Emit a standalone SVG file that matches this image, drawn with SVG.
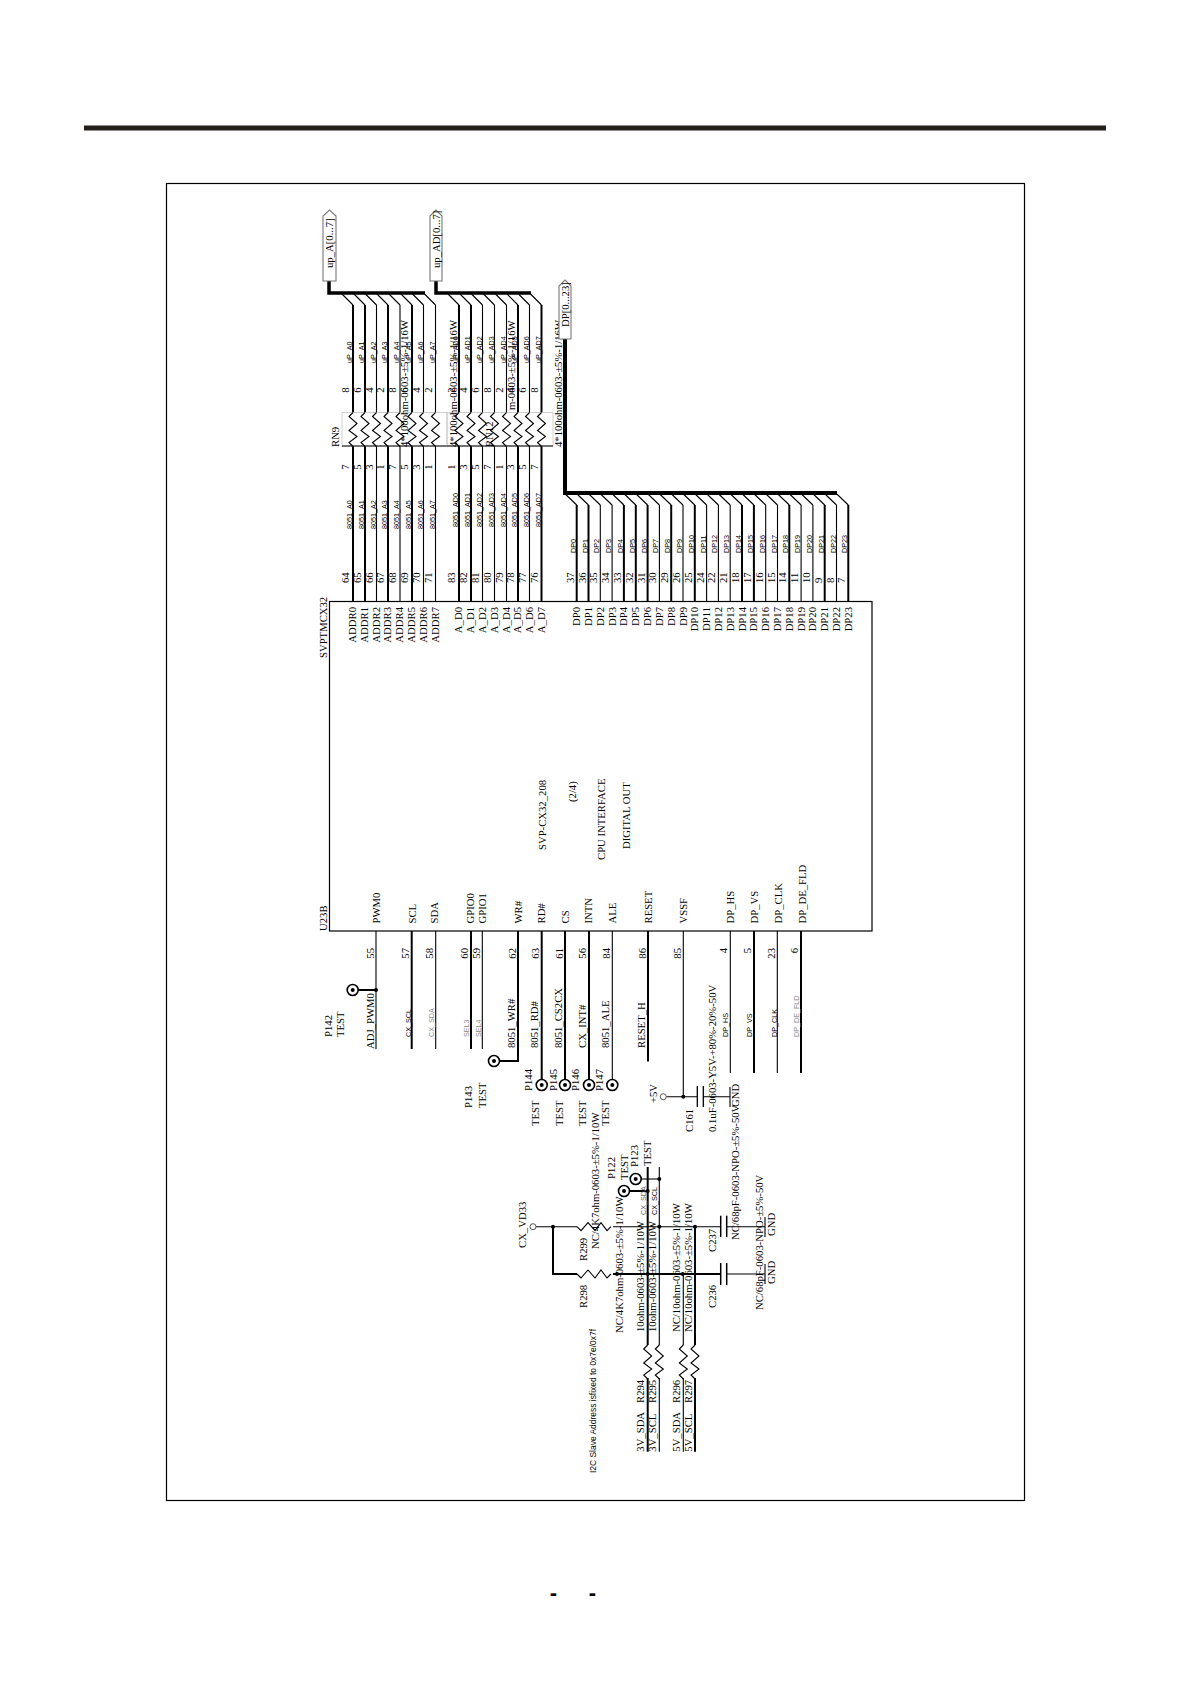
<svg xmlns="http://www.w3.org/2000/svg" width="1192" height="1685" viewBox="0 0 1192 1685">
<style>
text{font-family:"Liberation Serif","Times New Roman",serif;font-size:10.7px;fill:#000}
.a{font-family:"Liberation Sans",Arial,sans-serif;font-size:7.2px}
.g{fill:#888}
.e{text-anchor:end}
.c{text-anchor:middle}
path,line,rect,circle,polyline{fill:none;stroke:#000;stroke-width:1.1}
.t{stroke-width:2}
.b{stroke-width:3.5}
.d{fill:#000;stroke:none}
.tp{fill:#fff;stroke-width:1.6}
.o{fill:#fff;stroke:#555;stroke-width:1}
.rn{stroke:#c4c4c4;stroke-width:.8}
.port{fill:#fff;stroke:#777}
</style>
<defs>
<path id="zz" d="M0,0L-4,4L4,11L-4,18L4,24L-4,30L0,34"/>
</defs>
<rect id="header-rule" x="84" y="125.5" width="1022" height="5" style="fill:#231f1a;stroke:none"/>
<rect id="frame" x="166.5" y="183.5" width="858" height="1317" style="stroke-width:1.2"/>
<text id="footer-1" class="e" style="font-family:'Liberation Sans',sans-serif;font-size:22px;font-weight:bold" x="557" y="1600">-</text>
<text id="footer-2" class="e" style="font-family:'Liberation Sans',sans-serif;font-size:22px;font-weight:bold" x="596" y="1600">-</text>

<g id="connectors">
<path class="b" d="M329,281V293H425"/>
<path class="b" d="M436,281V293H531"/>
<path class="b" style="stroke-width:4" d="M565,339V493H837"/>
<path d="M342,294l11,11M354,294l11,11M365.500,294l11,11M377,294l11,11M389,294l11,11M401,294l11,11M412.500,294l11,11M424.500,294l11,11"/>
<path d="M448,294l11,11M460,294l11,11M471.500,294l11,11M483.500,294l11,11M495.500,294l11,11M507,294l11,11M518.500,294l11,11M530.500,294l11,11"/>
<path class="t" d="M353,305V412.500M353,446V601"/>
<path class="t" d="M365,305V412.500M365,446V601"/>
<path d="M376.500,305V412.500M376.500,446V601"/>
<path class="t" d="M388,305V412.500M388,446V601"/>
<path d="M400,305V412.500M400,446V601"/>
<path class="t" d="M412,305V412.500M412,446V601"/>
<path d="M423.500,305V412.500M423.500,446V601"/>
<path d="M435.500,305V412.500M435.500,446V601"/>
<path class="t" d="M459,305V412.500M459,446V601"/>
<path class="t" d="M471,305V412.500M471,446V601"/>
<path d="M482.500,305V412.500M482.500,446V601"/>
<path d="M494.500,305V412.500M494.500,446V601"/>
<path d="M506.500,305V412.500M506.500,446V601"/>
<path class="t" d="M518,305V412.500M518,446V601"/>
<path d="M529.500,305V412.500M529.500,446V601"/>
<path class="t" d="M541.500,305V412.500M541.500,446V601"/>
<path d="M565.200,494l11.500,11M577,494l11.500,11M588.800,494l11.500,11M600.600,494l11.500,11M612.400,494l11.500,11M624.300,494l11.500,11M636.100,494l11.500,11M647.900,494l11.500,11M659.700,494l11.500,11M671.500,494l11.500,11M683.300,494l11.500,11M695.100,494l11.500,11M706.900,494l11.500,11M718.700,494l11.500,11M730.500,494l11.500,11M742.400,494l11.500,11M754.200,494l11.500,11M766,494l11.500,11M777.800,494l11.500,11M789.600,494l11.500,11M801.400,494l11.500,11M813.200,494l11.500,11M825,494l11.500,11M836.800,494l11.500,11"/>
<path class="t" d="M576.700,505V601"/>
<path class="t" d="M588.500,505V601"/>
<path d="M600.300,505V601"/>
<path d="M612.100,505V601"/>
<path class="t" d="M623.900,505V601"/>
<path class="t" d="M635.800,505V601"/>
<path class="t" d="M647.600,505V601"/>
<path d="M659.400,505V601"/>
<path class="t" d="M671.200,505V601"/>
<path d="M683,505V601"/>
<path class="t" d="M694.800,505V601"/>
<path d="M706.600,505V601"/>
<path d="M718.400,505V601"/>
<path d="M730.200,505V601"/>
<path class="t" d="M742,505V601"/>
<path class="t" d="M753.900,505V601"/>
<path d="M765.700,505V601"/>
<path d="M777.500,505V601"/>
<path class="t" d="M789.300,505V601"/>
<path d="M801.100,505V601"/>
<path d="M812.900,505V601"/>
<path class="t" d="M824.700,505V601"/>
<path d="M836.500,505V601"/>
<path class="t" d="M848.300,505V601"/>
<path d="M376,931V1049"/>
<path class="t" d="M347,990H376"/>
<path class="t" d="M411.700,931V1049"/>
<path d="M435.700,931V1049"/>
<path class="t" d="M471,931V1049"/>
<path d="M482.300,931V1049"/>
<path class="t" d="M518,931V1061H500"/>
<path class="t" d="M541.700,931V1080"/>
<path class="t" d="M565,931V1080"/>
<path class="t" d="M589,931V1080"/>
<path d="M612.300,931V1080"/>
<path class="t" d="M648,931V1061.500"/>
<path d="M683.300,931V1096.700"/>
<path d="M730.300,931V1073"/>
<path class="t" d="M754,931V1073"/>
<path d="M777.300,931V1073"/>
<path class="t" d="M801,931V1073"/>
<path d="M666.300,1096.700H697.300M703.300,1096.700H730"/>
<path d="M536,1226.700H577M613,1226.700H720.700M726.700,1226.700H765"/>
<path class="t" d="M553,1226.700V1274H577M613,1274H720.700"/>
<path d="M726.700,1274H765"/>
<path class="t" d="M647.700,1167V1345M647.700,1378V1451.700"/>
<path d="M659.300,1167V1345M659.300,1378V1451.700"/>
<path d="M683.300,1274V1345M683.300,1378V1451.700"/>
<path class="t" d="M695,1226.700V1345M695,1378V1451.700"/>
<path d="M641,1179H659.300"/>
<path class="t" d="M629.500,1191H647.700"/>
<circle class="d" cx="376" cy="990" r="2"/>
<circle class="d" cx="683.300" cy="1096.700" r="2"/>
<circle class="d" cx="553" cy="1226.700" r="2"/>
<circle class="d" cx="659.300" cy="1226.700" r="2"/>
<circle class="d" cx="695" cy="1226.700" r="2"/>
<circle class="d" cx="617" cy="1274" r="2"/>
<circle class="d" cx="647.700" cy="1274" r="2"/>
<circle class="d" cx="682.700" cy="1274" r="2"/>
<circle class="d" cx="659.300" cy="1179" r="2"/>
<circle class="d" cx="647.700" cy="1191" r="2"/>
</g>

<g id="U23B">
<rect x="329.500" y="601.500" width="542.500" height="329.500" style="stroke-width:1.2"/>
<text transform="translate(327 931)rotate(-90)">U23B</text>
<text transform="translate(327 658)rotate(-90)">SVPTMCX32</text>
<text transform="translate(546 850)rotate(-90)">SVP-CX32_208</text>
<text transform="translate(576 802)rotate(-90)">(2/4)</text>
<text transform="translate(605 860)rotate(-90)">CPU INTERFACE</text>
<text transform="translate(630 849)rotate(-90)">DIGITAL OUT</text>
<g class="names">
<text class="e" transform="translate(356 607)rotate(-90)">ADDR0</text>
<text class="e" transform="translate(368 607)rotate(-90)">ADDR1</text>
<text class="e" transform="translate(379.500 607)rotate(-90)">ADDR2</text>
<text class="e" transform="translate(391 607)rotate(-90)">ADDR3</text>
<text class="e" transform="translate(403 607)rotate(-90)">ADDR4</text>
<text class="e" transform="translate(415 607)rotate(-90)">ADDR5</text>
<text class="e" transform="translate(426.500 607)rotate(-90)">ADDR6</text>
<text class="e" transform="translate(438.500 607)rotate(-90)">ADDR7</text>
<text class="e" transform="translate(462 607)rotate(-90)">A_D0</text>
<text class="e" transform="translate(474 607)rotate(-90)">A_D1</text>
<text class="e" transform="translate(485.500 607)rotate(-90)">A_D2</text>
<text class="e" transform="translate(497.500 607)rotate(-90)">A_D3</text>
<text class="e" transform="translate(509.500 607)rotate(-90)">A_D4</text>
<text class="e" transform="translate(521 607)rotate(-90)">A_D5</text>
<text class="e" transform="translate(532.500 607)rotate(-90)">A_D6</text>
<text class="e" transform="translate(544.500 607)rotate(-90)">A_D7</text>
<text class="e" transform="translate(580.200 607)rotate(-90)">DP0</text>
<text class="e" transform="translate(592 607)rotate(-90)">DP1</text>
<text class="e" transform="translate(603.800 607)rotate(-90)">DP2</text>
<text class="e" transform="translate(615.600 607)rotate(-90)">DP3</text>
<text class="e" transform="translate(627.400 607)rotate(-90)">DP4</text>
<text class="e" transform="translate(639.300 607)rotate(-90)">DP5</text>
<text class="e" transform="translate(651.100 607)rotate(-90)">DP6</text>
<text class="e" transform="translate(662.900 607)rotate(-90)">DP7</text>
<text class="e" transform="translate(674.700 607)rotate(-90)">DP8</text>
<text class="e" transform="translate(686.500 607)rotate(-90)">DP9</text>
<text class="e" transform="translate(698.300 607)rotate(-90)">DP10</text>
<text class="e" transform="translate(710.100 607)rotate(-90)">DP11</text>
<text class="e" transform="translate(721.900 607)rotate(-90)">DP12</text>
<text class="e" transform="translate(733.700 607)rotate(-90)">DP13</text>
<text class="e" transform="translate(745.500 607)rotate(-90)">DP14</text>
<text class="e" transform="translate(757.400 607)rotate(-90)">DP15</text>
<text class="e" transform="translate(769.200 607)rotate(-90)">DP16</text>
<text class="e" transform="translate(781 607)rotate(-90)">DP17</text>
<text class="e" transform="translate(792.800 607)rotate(-90)">DP18</text>
<text class="e" transform="translate(804.600 607)rotate(-90)">DP19</text>
<text class="e" transform="translate(816.400 607)rotate(-90)">DP20</text>
<text class="e" transform="translate(828.200 607)rotate(-90)">DP21</text>
<text class="e" transform="translate(840 607)rotate(-90)">DP22</text>
<text class="e" transform="translate(851.800 607)rotate(-90)">DP23</text>
<text transform="translate(380 923.500)rotate(-90)">PWM0</text>
<text transform="translate(415.700 923.500)rotate(-90)">SCL</text>
<text transform="translate(438 923.500)rotate(-90)">SDA</text>
<text transform="translate(474 923.500)rotate(-90)">GPIO0</text>
<text transform="translate(485.700 923.500)rotate(-90)">GPIO1</text>
<text transform="translate(521.700 923.500)rotate(-90)">WR#</text>
<text transform="translate(545 923.500)rotate(-90)">RD#</text>
<text transform="translate(569 923.500)rotate(-90)">CS</text>
<text transform="translate(591.700 923.500)rotate(-90)">INTN</text>
<text transform="translate(616 923.500)rotate(-90)">ALE</text>
<text transform="translate(651.700 923.500)rotate(-90)">RESET</text>
<text transform="translate(686.700 923.500)rotate(-90)">VSSF</text>
<text transform="translate(734 923.500)rotate(-90)">DP_HS</text>
<text transform="translate(757.700 923.500)rotate(-90)">DP_VS</text>
<text transform="translate(781.700 923.500)rotate(-90)">DP_CLK</text>
<text transform="translate(806 923.500)rotate(-90)">DP_DE_FLD</text>
</g>
<g class="pin-numbers">
<text transform="translate(349 583)rotate(-90)">64</text>
<text transform="translate(361 583)rotate(-90)">65</text>
<text transform="translate(372.500 583)rotate(-90)">66</text>
<text transform="translate(384 583)rotate(-90)">67</text>
<text transform="translate(396 583)rotate(-90)">68</text>
<text transform="translate(408 583)rotate(-90)">69</text>
<text transform="translate(419.500 583)rotate(-90)">70</text>
<text transform="translate(431.500 583)rotate(-90)">71</text>
<text transform="translate(455 583)rotate(-90)">83</text>
<text transform="translate(467 583)rotate(-90)">82</text>
<text transform="translate(478.500 583)rotate(-90)">81</text>
<text transform="translate(490.500 583)rotate(-90)">80</text>
<text transform="translate(502.500 583)rotate(-90)">79</text>
<text transform="translate(514 583)rotate(-90)">78</text>
<text transform="translate(525.500 583)rotate(-90)">77</text>
<text transform="translate(537.500 583)rotate(-90)">76</text>
<text transform="translate(573.700 583)rotate(-90)">37</text>
<text transform="translate(585.500 583)rotate(-90)">36</text>
<text transform="translate(597.300 583)rotate(-90)">35</text>
<text transform="translate(609.100 583)rotate(-90)">34</text>
<text transform="translate(620.900 583)rotate(-90)">33</text>
<text transform="translate(632.800 583)rotate(-90)">32</text>
<text transform="translate(644.600 583)rotate(-90)">31</text>
<text transform="translate(656.400 583)rotate(-90)">30</text>
<text transform="translate(668.200 583)rotate(-90)">29</text>
<text transform="translate(680 583)rotate(-90)">26</text>
<text transform="translate(691.800 583)rotate(-90)">25</text>
<text transform="translate(703.600 583)rotate(-90)">24</text>
<text transform="translate(715.400 583)rotate(-90)">22</text>
<text transform="translate(727.200 583)rotate(-90)">21</text>
<text transform="translate(739 583)rotate(-90)">18</text>
<text transform="translate(750.900 583)rotate(-90)">17</text>
<text transform="translate(762.700 583)rotate(-90)">16</text>
<text transform="translate(774.500 583)rotate(-90)">15</text>
<text transform="translate(786.300 583)rotate(-90)">14</text>
<text transform="translate(798.100 583)rotate(-90)">11</text>
<text transform="translate(809.900 583)rotate(-90)">10</text>
<text transform="translate(821.700 583)rotate(-90)">9</text>
<text transform="translate(833.500 583)rotate(-90)">8</text>
<text transform="translate(845.300 583)rotate(-90)">7</text>
<text class="e" transform="translate(374 948)rotate(-90)">55</text>
<text class="e" transform="translate(409 948)rotate(-90)">57</text>
<text class="e" transform="translate(433 948)rotate(-90)">58</text>
<text class="e" transform="translate(468 948)rotate(-90)">60</text>
<text class="e" transform="translate(480 948)rotate(-90)">59</text>
<text class="e" transform="translate(516 948)rotate(-90)">62</text>
<text class="e" transform="translate(539 948)rotate(-90)">63</text>
<text class="e" transform="translate(562.700 948)rotate(-90)">61</text>
<text class="e" transform="translate(586 948)rotate(-90)">56</text>
<text class="e" transform="translate(610 948)rotate(-90)">84</text>
<text class="e" transform="translate(645.700 948)rotate(-90)">86</text>
<text class="e" transform="translate(680.700 948)rotate(-90)">85</text>
<text class="e" transform="translate(727.300 948)rotate(-90)">4</text>
<text class="e" transform="translate(751 948)rotate(-90)">5</text>
<text class="e" transform="translate(775 948)rotate(-90)">23</text>
<text class="e" transform="translate(798 948)rotate(-90)">6</text>
</g>
</g>

<g id="net-labels">
<text class="a" transform="translate(352 529)rotate(-90)">8051_A0</text>
<text class="a" transform="translate(364 529)rotate(-90)">8051_A1</text>
<text class="a" transform="translate(375.500 529)rotate(-90)">8051_A2</text>
<text class="a" transform="translate(387 529)rotate(-90)">8051_A3</text>
<text class="a" transform="translate(399 529)rotate(-90)">8051_A4</text>
<text class="a" transform="translate(411 529)rotate(-90)">8051_A5</text>
<text class="a" transform="translate(422.500 529)rotate(-90)">8051_A6</text>
<text class="a" transform="translate(434.500 529)rotate(-90)">8051_A7</text>
<text class="a" transform="translate(458 527)rotate(-90)">8051_AD0</text>
<text class="a" transform="translate(470 527)rotate(-90)">8051_AD1</text>
<text class="a" transform="translate(481.500 527)rotate(-90)">8051_AD2</text>
<text class="a" transform="translate(493.500 527)rotate(-90)">8051_AD3</text>
<text class="a" transform="translate(505.500 527)rotate(-90)">8051_AD4</text>
<text class="a" transform="translate(517 527)rotate(-90)">8051_AD5</text>
<text class="a" transform="translate(528.500 527)rotate(-90)">8051_AD6</text>
<text class="a" transform="translate(540.500 527)rotate(-90)">8051_AD7</text>
<text class="a" transform="translate(352 363)rotate(-90)">uP_A0</text>
<text class="a" transform="translate(364 363)rotate(-90)">uP_A1</text>
<text class="a" transform="translate(375.500 363)rotate(-90)">uP_A2</text>
<text class="a" transform="translate(387 363)rotate(-90)">uP_A3</text>
<text class="a" transform="translate(399 363)rotate(-90)">uP_A4</text>
<text class="a" transform="translate(411 363)rotate(-90)">uP_A5</text>
<text class="a" transform="translate(422.500 363)rotate(-90)">uP_A6</text>
<text class="a" transform="translate(434.500 363)rotate(-90)">uP_A7</text>
<text class="a" transform="translate(458 363)rotate(-90)">uP_AD0</text>
<text class="a" transform="translate(470 363)rotate(-90)">uP_AD1</text>
<text class="a" transform="translate(481.500 363)rotate(-90)">uP_AD2</text>
<text class="a" transform="translate(493.500 363)rotate(-90)">uP_AD3</text>
<text class="a" transform="translate(505.500 363)rotate(-90)">uP_AD4</text>
<text class="a" transform="translate(517 363)rotate(-90)">uP_AD5</text>
<text class="a" transform="translate(528.500 363)rotate(-90)">uP_AD6</text>
<text class="a" transform="translate(540.500 363)rotate(-90)">uP_AD7</text>
<text class="a" transform="translate(575.700 553)rotate(-90)">DP0</text>
<text class="a" transform="translate(587.500 553)rotate(-90)">DP1</text>
<text class="a" transform="translate(599.300 553)rotate(-90)">DP2</text>
<text class="a" transform="translate(611.100 553)rotate(-90)">DP3</text>
<text class="a" transform="translate(622.900 553)rotate(-90)">DP4</text>
<text class="a" transform="translate(634.800 553)rotate(-90)">DP5</text>
<text class="a" transform="translate(646.600 553)rotate(-90)">DP6</text>
<text class="a" transform="translate(658.400 553)rotate(-90)">DP7</text>
<text class="a" transform="translate(670.200 553)rotate(-90)">DP8</text>
<text class="a" transform="translate(682 553)rotate(-90)">DP9</text>
<text class="a" transform="translate(693.800 553)rotate(-90)">DP10</text>
<text class="a" transform="translate(705.600 553)rotate(-90)">DP11</text>
<text class="a" transform="translate(717.400 553)rotate(-90)">DP12</text>
<text class="a" transform="translate(729.200 553)rotate(-90)">DP13</text>
<text class="a" transform="translate(741 553)rotate(-90)">DP14</text>
<text class="a" transform="translate(752.900 553)rotate(-90)">DP15</text>
<text class="a" transform="translate(764.700 553)rotate(-90)">DP16</text>
<text class="a" transform="translate(776.500 553)rotate(-90)">DP17</text>
<text class="a" transform="translate(788.300 553)rotate(-90)">DP18</text>
<text class="a" transform="translate(800.100 553)rotate(-90)">DP19</text>
<text class="a" transform="translate(811.900 553)rotate(-90)">DP20</text>
<text class="a" transform="translate(823.700 553)rotate(-90)">DP21</text>
<text class="a" transform="translate(835.500 553)rotate(-90)">DP22</text>
<text class="a" transform="translate(847.300 553)rotate(-90)">DP23</text>
<text transform="translate(374 1049)rotate(-90)">ADJ_PWM0</text>
<text class="a" transform="translate(410.700 1037)rotate(-90)">CX_SCL</text>
<text class="a g" transform="translate(434 1037)rotate(-90)">CX_SDA</text>
<text class="a g" transform="translate(469 1037)rotate(-90)">SEL3</text>
<text class="a g" transform="translate(481 1037)rotate(-90)">SEL4</text>
<text transform="translate(515 1048)rotate(-90)">8051_WR#</text>
<text transform="translate(538.300 1048)rotate(-90)">8051_RD#</text>
<text transform="translate(562 1048)rotate(-90)">8051_CS2CX</text>
<text transform="translate(586 1048)rotate(-90)">CX_INT#</text>
<text transform="translate(609.300 1048)rotate(-90)">8051_ALE</text>
<text transform="translate(645 1048)rotate(-90)">RESET_H</text>
<text class="a" transform="translate(728.300 1037)rotate(-90)">DP_HS</text>
<text class="a" transform="translate(752.300 1037)rotate(-90)">DP_VS</text>
<text class="a" transform="translate(776.700 1037)rotate(-90)">DP_CLK</text>
<text class="a g" transform="translate(799 1037)rotate(-90)">DP_DE_FLD</text>
<text class="a" transform="translate(646 1215)rotate(-90)" style="fill:#666">CX_SDA</text>
<text class="a" transform="translate(657 1215)rotate(-90)">CX_SCL</text>
<text style="font-family:'Liberation Sans',sans-serif;font-size:9.5px" textLength="144" lengthAdjust="spacingAndGlyphs" transform="translate(596 1473)rotate(-90)">I2C Slave Address isfixed to 0x7e/0x7f</text>
</g>

<g id="RN9">
<rect class="rn" x="342" y="412.500" width="105" height="33.500"/>
<line x1="342" y1="446" x2="447" y2="446"/>
<use href="#zz" x="353" y="412.500"/><use href="#zz" x="365" y="412.500"/><use href="#zz" x="376.500" y="412.500"/><use href="#zz" x="388" y="412.500"/><use href="#zz" x="400" y="412.500"/><use href="#zz" x="412" y="412.500"/><use href="#zz" x="423.500" y="412.500"/><use href="#zz" x="435.500" y="412.500"/>
<text transform="translate(339 447)rotate(-90)">RN9</text>
<text transform="translate(408 447)rotate(-90)">4*100ohm-0603-±5%-1/16W</text>
<text class="c" transform="translate(349 390)rotate(-90)">8</text><text class="c" transform="translate(361 390)rotate(-90)">6</text><text class="c" transform="translate(372.500 390)rotate(-90)">4</text><text class="c" transform="translate(384 390)rotate(-90)">2</text><text class="c" transform="translate(396 390)rotate(-90)">8</text><text class="c" transform="translate(408 390)rotate(-90)">6</text><text class="c" transform="translate(419.500 390)rotate(-90)">4</text><text class="c" transform="translate(431.500 390)rotate(-90)">2</text>
<text class="c" transform="translate(349 467)rotate(-90)">7</text><text class="c" transform="translate(361 467)rotate(-90)">5</text><text class="c" transform="translate(372.500 467)rotate(-90)">3</text><text class="c" transform="translate(384 467)rotate(-90)">1</text><text class="c" transform="translate(396 467)rotate(-90)">7</text><text class="c" transform="translate(408 467)rotate(-90)">5</text><text class="c" transform="translate(419.500 467)rotate(-90)">3</text><text class="c" transform="translate(431.500 467)rotate(-90)">1</text>
</g>

<g id="RN12">
<rect class="rn" x="447" y="412.500" width="106" height="33.500"/>
<line x1="447" y1="446" x2="553" y2="446"/>
<use href="#zz" x="459" y="412.500"/><use href="#zz" x="471" y="412.500"/><use href="#zz" x="482.500" y="412.500"/><use href="#zz" x="494.500" y="412.500"/><use href="#zz" x="506.500" y="412.500"/><use href="#zz" x="518" y="412.500"/><use href="#zz" x="529.500" y="412.500"/><use href="#zz" x="541.500" y="412.500"/>
<text transform="translate(492.700 447)rotate(-90)">RN12</text>
<text transform="translate(456.700 447)rotate(-90)">4*100ohm-0603-±5%-1/16W</text>
<text transform="translate(515 410)rotate(-90)">m-0603-±5%-1/16W</text>
<text transform="translate(562 447)rotate(-90)">4*100ohm-0603-±5%-1/16W</text>
<text class="c" transform="translate(455 390)rotate(-90)">2</text><text class="c" transform="translate(467 390)rotate(-90)">4</text><text class="c" transform="translate(478.500 390)rotate(-90)">6</text><text class="c" transform="translate(490.500 390)rotate(-90)">8</text><text class="c" transform="translate(502.500 390)rotate(-90)">2</text><text class="c" transform="translate(514 390)rotate(-90)">4</text><text class="c" transform="translate(525.500 390)rotate(-90)">6</text><text class="c" transform="translate(537.500 390)rotate(-90)">8</text>
<text class="c" transform="translate(455 467)rotate(-90)">1</text><text class="c" transform="translate(467 467)rotate(-90)">3</text><text class="c" transform="translate(478.500 467)rotate(-90)">5</text><text class="c" transform="translate(490.500 467)rotate(-90)">7</text><text class="c" transform="translate(502.500 467)rotate(-90)">1</text><text class="c" transform="translate(514 467)rotate(-90)">3</text><text class="c" transform="translate(525.500 467)rotate(-90)">5</text><text class="c" transform="translate(537.500 467)rotate(-90)">7</text>
</g>

<g id="P142"><circle class="tp" cx="352.700" cy="990" r="5.500"/><circle class="d" cx="352.700" cy="990" r="2"/>
<text transform="translate(331.700 1037)rotate(-90)">P142</text><text transform="translate(344 1037)rotate(-90)">TEST</text></g>
<g id="P143"><circle class="tp" cx="494" cy="1061" r="5.500"/><circle class="d" cx="494" cy="1061" r="2"/>
<text transform="translate(472.300 1108)rotate(-90)">P143</text><text transform="translate(485.700 1108)rotate(-90)">TEST</text></g>
<g id="P144"><circle class="tp" cx="541.700" cy="1085" r="5.500"/><circle class="d" cx="541.700" cy="1085" r="2"/>
<text transform="translate(532 1091)rotate(-90)">P144</text><text transform="translate(539 1126)rotate(-90)">TEST</text></g>
<g id="P145"><circle class="tp" cx="565" cy="1085" r="5.500"/><circle class="d" cx="565" cy="1085" r="2"/>
<text transform="translate(556.700 1091)rotate(-90)">P145</text><text transform="translate(562.700 1126)rotate(-90)">TEST</text></g>
<g id="P146"><circle class="tp" cx="589" cy="1085" r="5.500"/><circle class="d" cx="589" cy="1085" r="2"/>
<text transform="translate(579 1091)rotate(-90)">P146</text><text transform="translate(586 1126)rotate(-90)">TEST</text></g>
<g id="P147"><circle class="tp" cx="612.300" cy="1085" r="5.500"/><circle class="d" cx="612.300" cy="1085" r="2"/>
<text transform="translate(603 1091)rotate(-90)">P147</text><text transform="translate(609 1126)rotate(-90)">TEST</text></g>
<g id="P122"><circle class="tp" cx="624" cy="1191" r="5.500"/><circle class="d" cx="624" cy="1191" r="2"/>
<text transform="translate(615 1179)rotate(-90)">P122</text><text transform="translate(627.700 1180)rotate(-90)">TEST</text></g>
<g id="P123"><circle class="tp" cx="635.700" cy="1179" r="5.500"/><circle class="d" cx="635.700" cy="1179" r="2"/>
<text transform="translate(638 1167)rotate(-90)">P123</text><text transform="translate(650.700 1166)rotate(-90)">TEST</text></g>

<g id="C161">
<line x1="697.300" y1="1086" x2="697.300" y2="1107" style="stroke-width:1.3"/><line x1="703.300" y1="1086" x2="703.300" y2="1107" style="stroke-width:1.3"/>
<line x1="730" y1="1087" x2="730" y2="1107"/>
<text transform="translate(692.700 1132)rotate(-90)">C161</text>
<text transform="translate(715.700 1132)rotate(-90)">0.1uF-0603-Y5V-+80%-20%-50V</text>
<text transform="translate(739 1107)rotate(-90)">GND</text>
</g>
<g id="plus5V"><circle class="o" cx="663.300" cy="1096.700" r="3"/><text transform="translate(656.700 1103)rotate(-90)">+5V</text></g>
<g id="CX_VD33"><circle class="o" cx="533" cy="1226.700" r="3"/><text transform="translate(526 1248)rotate(-90)">CX_VD33</text></g>

<g id="R299"><use href="#zz" transform="translate(577 1226.700)rotate(-90)"/>
<text transform="translate(586.700 1261)rotate(-90)">R299</text>
<text transform="translate(599 1249)rotate(-90)">NC/4K7ohm-0603-±5%-1/10W</text></g>
<g id="R298"><use href="#zz" transform="translate(577 1274)rotate(-90)" style="stroke-width:1.5"/>
<text transform="translate(586.700 1308)rotate(-90)">R298</text>
<text transform="translate(622.700 1333)rotate(-90)">NC/4K7ohm-0603-±5%-1/10W</text></g>
<g id="C237"><line x1="720.700" y1="1215.700" x2="720.700" y2="1237" style="stroke-width:1.5"/><line x1="726.700" y1="1215.700" x2="726.700" y2="1237" style="stroke-width:1.5"/>
<line x1="765" y1="1217" x2="765" y2="1237"/>
<text transform="translate(716 1252)rotate(-90)">C237</text>
<text transform="translate(739.300 1240)rotate(-90)">NC/68pF-0603-NPO-±5%-50V</text>
<text transform="translate(775 1236)rotate(-90)">GND</text></g>
<g id="C236"><line x1="720.700" y1="1263" x2="720.700" y2="1285" style="stroke-width:1.5"/><line x1="726.700" y1="1263" x2="726.700" y2="1285" style="stroke-width:1.5"/>
<line x1="765" y1="1264" x2="765" y2="1284"/>
<text transform="translate(716 1308)rotate(-90)">C236</text>
<text transform="translate(763 1310)rotate(-90)">NC/68pF-0603-NPO-±5%-50V</text>
<text transform="translate(775 1284)rotate(-90)">GND</text></g>
<g id="R294"><use href="#zz" x="647.700" y="1345"/>
<text transform="translate(644 1403)rotate(-90)">R294</text>
<text transform="translate(644 1332)rotate(-90)">10ohm-0603-±5%-1/10W</text>
<text transform="translate(644 1451.700)rotate(-90)">3V_SDA</text></g>
<g id="R295"><use href="#zz" x="659.300" y="1345"/>
<text transform="translate(656 1403)rotate(-90)">R295</text>
<text transform="translate(656 1332)rotate(-90)">10ohm-0603-±5%-1/10W</text>
<text transform="translate(656 1451.700)rotate(-90)">3V_SCL</text></g>
<g id="R296"><use href="#zz" x="683.300" y="1345"/>
<text transform="translate(680 1403)rotate(-90)">R296</text>
<text transform="translate(680 1332)rotate(-90)">NC/10ohm-0603-±5%-1/10W</text>
<text transform="translate(680 1451.700)rotate(-90)">5V_SDA</text></g>
<g id="R297"><use href="#zz" x="695" y="1345"/>
<text transform="translate(692 1403)rotate(-90)">R297</text>
<text transform="translate(692 1332)rotate(-90)">NC/10ohm-0603-±5%-1/10W</text>
<text transform="translate(692 1451.700)rotate(-90)">5V_SCL</text></g>

<g id="port-up_A"><path class="port" d="M323,281V216L329.500,210L336,216V281Z"/><text transform="translate(333 268)rotate(-90)">up_A[0...7]</text></g>
<g id="port-up_AD"><path class="port" d="M430,281V216L436,210L442,216V281Z"/><text transform="translate(440 268)rotate(-90)">up_AD[0...7]</text></g>
<g id="port-DP"><path class="port" d="M559,339V286L565,280L571,286V339Z"/><text transform="translate(569 327)rotate(-90)">DP[0...23]</text></g>
</svg>
